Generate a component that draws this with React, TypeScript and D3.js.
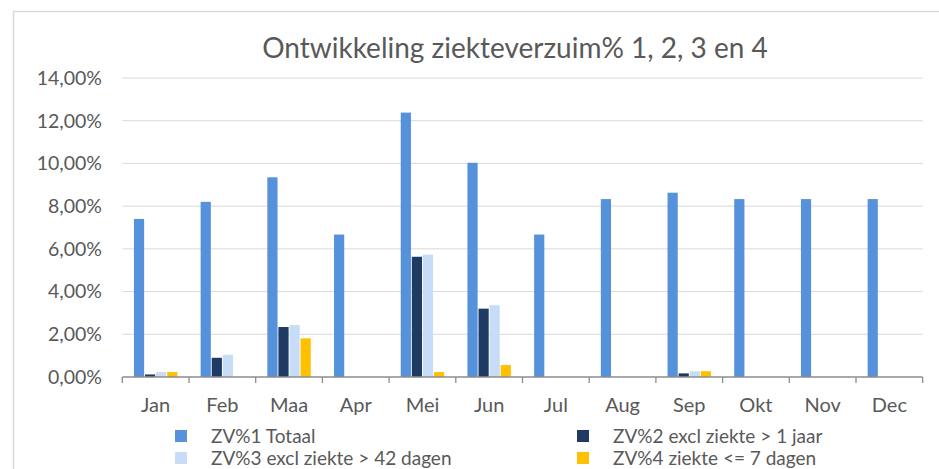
import React from "react";
import * as d3 from "d3";

// months on the x axis
const months = ["Jan", "Feb", "Maa", "Apr", "Mei", "Jun", "Jul", "Aug", "Sep", "Okt", "Nov", "Dec"];

// sick leave percentages per series
const zv1 = [7.4, 8.2, 9.35, 6.67, 12.38, 10.03, 6.67, 8.33, 8.63, 8.33, 8.33, 8.33];
const zv2 = [0.12, 0.9, 2.34, 0, 5.63, 3.2, 0, 0, 0.17, 0, 0, 0];
const zv3 = [0.23, 1.04, 2.43, 0, 5.73, 3.36, 0, 0, 0.27, 0, 0, 0];
const zv4 = [0.23, 0, 1.81, 0, 0.23, 0.56, 0, 0, 0.27, 0, 0, 0];

const seriesNames = [
  "ZV%1 Totaal",
  "ZV%2 excl ziekte > 1 jaar",
  "ZV%3 excl ziekte > 42 dagen",
  "ZV%4 ziekte <= 7 dagen",
];
const seriesValues = [zv1, zv2, zv3, zv4];
const colors = ["#5592db", "#203b63", "#c7dcf6", "#ffc000"];

const yTicks = [0, 2, 4, 6, 8, 10, 12, 14];

const W = 939;
const H = 469;
const FONT = "Lato, 'Noto Sans', sans-serif";
const TXT = "#595959";

const nl = d3.formatLocale({ decimal: ",", thousands: ".", grouping: [3], currency: ["", "€"] });
const fmt = (v: number) => nl.format(".2f")(v) + "%";

const App = () => {
  const x = d3.scaleBand().domain(months).range([122.3, 922.7]);
  const inner = d3
    .scaleBand()
    .domain(seriesNames)
    .range([0, x.bandwidth()])
    .paddingInner(0.08)
    .paddingOuter(1.05);
  const y = d3.scaleLinear().domain([0, 14]).range([377, 78]);

  const legendPos = [
    { x: 175, y: 436, tx: 211 },
    { x: 577, y: 436, tx: 613 },
    { x: 175, y: 458, tx: 211 },
    { x: 577, y: 458, tx: 613 },
  ];

  return (
    <svg width={W} height={H} style={{ position: "absolute", left: 0, top: 0 }} fontFamily={FONT}>
      <rect x={0} y={0} width={W} height={H} fill="#fff" />
      {/* chart border */}
      <path d={`M13.5,${H} V11.5 H${W}`} fill="none" stroke="#d9d9d9" strokeWidth={1.5} />

      <text x={515} y={58} textAnchor="middle" fontSize={28} fill={TXT}>
        Ontwikkeling ziekteverzuim% 1, 2, 3 en 4
      </text>

      {/* gridlines + y labels */}
      {yTicks.map((t) => (
        <g key={t}>
          {t > 0 && (
            <line x1={122.3} x2={922.7} y1={y(t)} y2={y(t)} stroke="#d9d9d9" strokeWidth={1} />
          )}
          <text x={102} y={y(t)} dy="0.35em" textAnchor="end" fontSize={19.5} fill={TXT}>
            {fmt(t)}
          </text>
        </g>
      ))}

      {/* bars */}
      {months.map((m, i) => (
        <g key={m} transform={`translate(${x(m)},0)`}>
          {seriesValues.map((vals, s) =>
            vals[i] > 0 ? (
              <rect
                key={s}
                x={inner(seriesNames[s])}
                width={inner.bandwidth()}
                y={y(vals[i])}
                height={y(0) - y(vals[i])}
                fill={colors[s]}
              />
            ) : null
          )}
        </g>
      ))}

      {/* x axis */}
      <line x1={122.3} x2={922.7} y1={377} y2={377} stroke="#8c8c8c" strokeWidth={1.3} />
      {d3.range(13).map((k) => {
        const tx = 122.3 + k * x.step();
        return <line key={k} x1={tx} x2={tx} y1={377} y2={383} stroke="#8c8c8c" strokeWidth={1.3} />;
      })}
      {months.map((m) => (
        <text
          key={m}
          x={(x(m) as number) + x.bandwidth() / 2}
          y={405}
          dy="0.35em"
          textAnchor="middle"
          fontSize={20}
          fill={TXT}
        >
          {m}
        </text>
      ))}

      {/* legend */}
      {seriesNames.map((name, s) => (
        <g key={name}>
          <rect x={legendPos[s].x} y={legendPos[s].y - 6} width={12} height={12} fill={colors[s]} />
          <text x={legendPos[s].tx} y={legendPos[s].y} dy="0.35em" fontSize={19} fill={TXT}>
            {name}
          </text>
        </g>
      ))}
    </svg>
  );
};

export default App;
